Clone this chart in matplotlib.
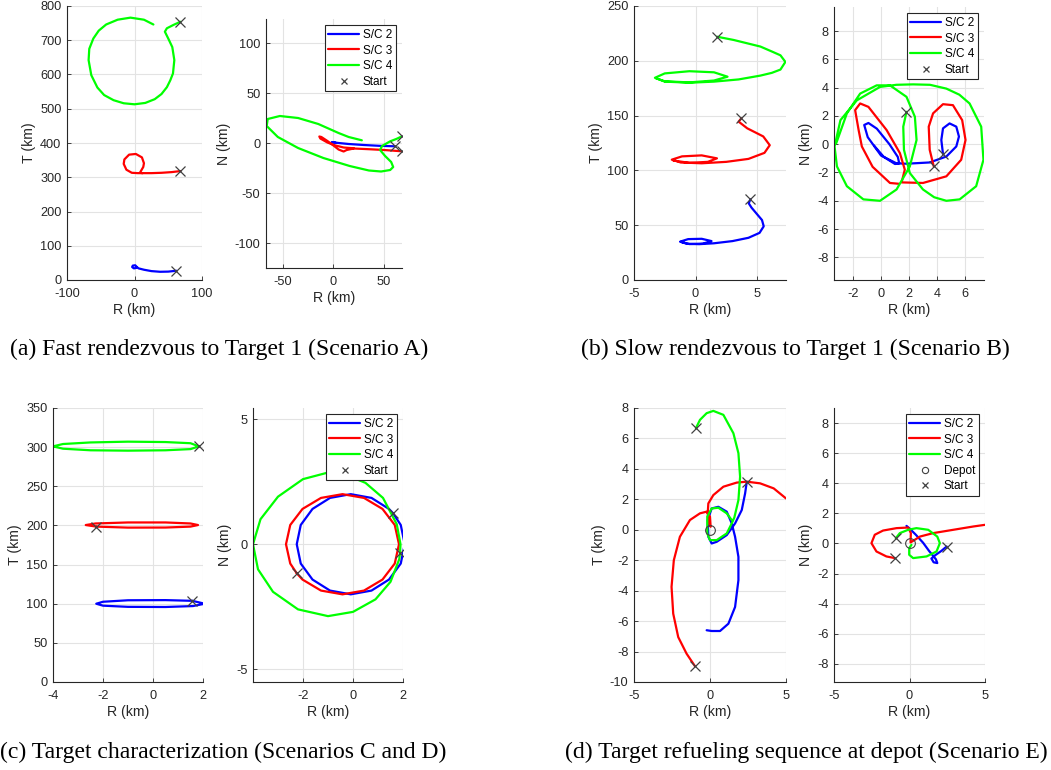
import matplotlib
matplotlib.use("Agg")
import matplotlib.pyplot as plt

plt.rcParams["font.family"] = ["Liberation Sans", "DejaVu Sans"]
plt.rcParams["axes.unicode_minus"] = False

# ---- data, (R, T) or (R, N) pairs in km ----
# (a) fast rendezvous
A_RT_SC2 = [(62, 27), (50, 24.5), (38, 24), (25, 26), (14, 30), (6, 34), (3.5, 38), (1, 43),
            (-2.5, 42), (-3.5, 38), (-1, 34), (2, 35), (3.5, 38)]
A_RT_SC3 = [(68, 318), (55, 315), (40, 313), (25, 312), (12, 312), (8, 313), (13, 330), (14, 341),
            (11, 358), (2, 368), (-8, 366), (-15, 352), (-16, 339), (-12, 322), (-4, 313), (5, 312), (12, 312)]
A_RT_SC4 = [(68, 754), (58, 745), (48, 735), (45, 725), (50, 705), (56, 680), (59, 642), (57, 603),
            (53, 583), (48, 563), (40, 543), (30, 528), (16, 517), (0, 513), (-16, 516), (-31, 525),
            (-45, 540), (-55, 562), (-64, 598), (-68, 642), (-67, 675), (-61, 705), (-53, 728), (-42, 746),
            (-25, 760), (-6, 766), (14, 760), (28, 746)]
A_RN_SC2 = [(61, -3.3), (45, -2.8), (30, -2.0), (15, -1.0), (5, 0.0), (-1, 0.8), (-2, 0.5), (2, 0.3)]
A_RN_SC3 = [(67.7, -8.3), (50, -7.0), (35, -6.2), (20, -5.5), (13, -7.0), (10, -8.5), (5, -6.5), (0, -2.5),
            (-6, 2.0), (-12, 6.0), (-14, 6.5), (-13, 4.5), (-6, 0.5), (2, -2.5), (10, -4.5), (20, -5.3)]
A_RN_SC4 = [(67.7, 6.7), (62, 4), (56, 1.7), (48, -3), (46, -7), (51, -13), (57, -19), (59, -24), (56, -27),
            (47, -28.5), (35, -27.5), (16, -23), (-10, -15), (-35, -5), (-55, 6), (-66, 17), (-65, 24),
            (-53, 27), (-35, 25), (-15, 19), (5, 10), (15, 6), (28, 2.7)]

# (b) slow rendezvous
B_RT_SC2 = [(4.46, 73.6), (4.32, 70), (4.55, 66), (5.0, 60), (5.4, 54.7), (5.54, 49), (5.2, 43), (4.3, 38.5),
            (3.0, 35.5), (1.5, 33.5), (0.3, 32.7), (-0.7, 33), (-1.25, 35), (-0.6, 37.3), (0.5, 37.6),
            (1.3, 35.5), (0.6, 33.2), (-0.5, 32.8), (-1.2, 34.8)]
B_RT_SC3 = [(3.72, 147.5), (3.5, 144.5), (4.2, 138.4), (5.5, 131), (6.03, 123), (5.6, 116), (4.3, 110.5),
            (2.5, 107.8), (0.5, 106.5), (-1.2, 107.2), (-1.93, 109.8), (-1.1, 112.8), (0.5, 113.7),
            (1.74, 111), (1.0, 107.8), (-0.5, 106.9), (-1.8, 109)]
B_RT_SC4 = [(1.74, 222), (3.1, 219), (5.27, 213), (6.3, 208), (6.9, 205), (7.3, 199), (6.9, 192), (6.2, 189),
            (5.27, 186.5), (3.5, 183), (1.5, 181), (-0.5, 180), (-2.5, 181), (-3.3, 184.5), (-2.5, 188.5),
            (-0.5, 190.5), (1.5, 189.5), (2.6, 185.5), (1.5, 182), (-0.5, 180.3), (-2.5, 181.3), (-3.2, 184)]
B_RN_SC2 = [(4.43, -0.7), (4.31, 0.3), (4.43, 1.12), (4.9, 1.47), (5.38, 1.24), (5.57, 0.54), (5.38, -0.16),
            (4.67, -0.87), (3.48, -1.29), (1.82, -1.38), (1.1, -1.35), (0.0, -0.8), (-0.95, 0.5), (-1.2, 1.36),
            (-0.9, 1.5), (-0.3, 1.1), (0.6, 0.0), (1.2, -0.9), (1.3, -1.35), (1.0, -1.4), (0.2, -0.9), (-0.5, -0.1)]
B_RN_SC3 = [(3.77, -1.57), (3.48, -0.4), (3.41, 1.24), (3.72, 2.18), (4.43, 2.83), (5.14, 2.76), (5.8, 1.7),
            (6.04, 0.3), (5.73, -1.1), (4.67, -2.27), (3.0, -2.74), (1.47, -2.7), (1.7, -1.8), (1.35, -0.63),
            (0.4, 1.0), (-0.9, 2.64), (-1.49, 2.88), (-1.85, 2.41), (-1.6, 1.0), (-1.37, -0.16), (-0.6, -1.6),
            (0.64, -2.74), (1.3, -2.8)]
B_RN_SC4 = [(1.82, 2.29), (1.59, 1.24), (1.64, -0.4), (2.06, -2.04), (3.0, -3.2), (3.8, -3.75), (4.67, -4.0),
            (5.62, -3.9), (6.8, -2.97), (7.32, -1.1), (7.16, 1.24), (6.33, 2.88), (5.6, 3.5), (4.67, 3.93),
            (3.5, 4.2), (2.3, 4.23), (1.1, 4.2), (-0.07, 4.05), (-1.73, 3.1), (-2.9, 1.7), (-3.32, -0.16),
            (-3.15, -1.57), (-2.44, -2.97), (-1.26, -3.9), (-0.07, -4.0), (1.11, -3.2), (2.06, -1.57),
            (2.54, 0.3), (2.42, 1.94), (1.82, 3.35), (0.64, 4.16), (-0.31, 4.16), (-1.49, 3.58),
            (-2.44, 2.18), (-3.2, 0.07)]

# (c) target characterization
C_RT_SC2 = [(1.57, 103.7), (0.5, 104.6), (-1, 104.4), (-2, 102.5), (-2.27, 100), (-2, 97.5), (-1, 96),
            (0.5, 95.8), (1.6, 97), (2.07, 100), (1.57, 103.7)]
C_RT_SC3 = [(-2.27, 198.5), (-2.69, 200.5), (-2.3, 202.5), (-1, 203.8), (0.5, 203.8), (1.5, 202.5),
            (1.8, 200.5), (1.5, 198.5), (0.5, 197.3), (-1, 197.2), (-2.27, 198.5)]
C_RT_SC4 = [(1.84, 301), (1.5, 305), (0.5, 306.5), (-1, 307), (-2.5, 306), (-3.6, 304), (-4, 301),
            (-3.6, 298), (-2.5, 296), (-1, 295.5), (0.5, 296), (1.5, 297.5), (1.84, 301)]
C_RN_SC2 = [(1.6, 1.24), (1.44, 1.41), (0.74, 1.85), (-0.09, 2.0), (-0.92, 1.85), (-1.62, 1.41), (-2.09, 0.77),
            (-2.25, 0), (-2.09, -0.77), (-1.62, -1.41), (-0.92, -1.85), (-0.09, -2.0), (0.74, -1.85),
            (1.44, -1.41), (1.91, -0.77), (2.07, 0), (1.91, 0.77), (1.6, 1.24)]
C_RN_SC3 = [(-2.25, -1.16), (-2.02, -1.41), (-1.28, -1.85), (-0.42, -2.0), (0.44, -1.85), (1.18, -1.41),
            (1.67, -0.77), (1.84, 0), (1.67, 0.77), (1.18, 1.41), (0.44, 1.85), (-0.42, 2.0), (-1.28, 1.85),
            (-2.02, 1.41), (-2.51, 0.77), (-2.68, 0), (-2.51, -0.77), (-2.25, -1.16)]
C_RN_SC4 = [(1.88, -0.36), (1.9, 0), (1.75, 0.8), (1.2, 1.85), (0.5, 2.45), (-0.3, 2.78), (-1.05, 2.85),
            (-2.0, 2.6), (-3.0, 1.9), (-3.7, 1.0), (-4.0, 0), (-3.8, -1.0), (-3.2, -1.9), (-2.2, -2.6),
            (-1.0, -2.87), (0.0, -2.7), (0.9, -2.2), (1.5, -1.5), (1.85, -0.6), (1.88, -0.36)]

# (d) refueling at depot
D_RT_SC2 = [(2.42, 3.16), (2.31, 2.39), (2.09, 1.3), (1.65, 0.42), (1.1, -0.35), (0.44, -0.79), (0.11, -0.9),
            (-0.11, -0.46), (-0.15, 0.64), (0.11, 1.4), (0.55, 1.51), (1.1, 1.19), (1.43, 0.42), (1.65, -0.46),
            (1.87, -1.78), (1.87, -3.31), (1.65, -5.07), (1.21, -6.17), (0.66, -6.65), (0.11, -6.65), (-0.22, -6.6)]
D_RT_SC3 = [(-0.99, -8.96), (-1.54, -8.14), (-2.09, -7.05), (-2.42, -5.51), (-2.53, -3.75), (-2.38, -2.0),
            (-1.98, -0.46), (-1.32, 0.64), (-0.66, 1.08), (-0.22, 1.19), (0.0, 0.86), (0.04, 0.2), (-0.1, 0.5),
            (-0.15, 1.08), (-0.11, 1.73), (0.22, 2.28), (0.88, 2.83), (1.76, 3.1), (2.42, 3.16), (3.3, 3.05),
            (4.19, 2.72), (5.0, 2.06)]
D_RT_SC4 = [(-0.93, 6.67), (-0.66, 7.22), (-0.22, 7.66), (0.22, 7.81), (0.88, 7.55), (1.54, 6.34), (1.87, 5.03),
            (1.98, 3.49), (1.87, 1.95), (1.6, 0.8), (1.43, 0.42), (1.1, -0.24), (0.44, -0.68), (0.0, -0.68),
            (-0.18, -0.24), (-0.18, 0.86), (0.11, 1.4), (0.55, 1.45), (1.1, 1.08), (1.43, 0.64)]
D_RN_SC2 = [(2.46, -0.2), (2.1, -0.5), (1.7, -0.78), (1.45, -1.0), (1.6, -1.25), (1.84, -1.3), (1.75, -1.05),
            (1.3, -0.5), (0.9, 0.05), (0.4, 0.6), (0.0, 1.0), (-0.2, 1.17)]
D_RN_SC3 = [(-0.97, -0.97), (-1.53, -0.86), (-2.19, -0.53), (-2.52, 0.02), (-2.3, 0.58), (-1.75, 0.86),
            (-0.86, 1.02), (-0.09, 1.06), (0.09, 0.69), (0.07, 0.07), (0.69, 0.46), (1.57, 0.69), (2.9, 0.91),
            (4.23, 1.13), (5.0, 1.24)]
D_RN_SC4 = [(-0.91, 0.35), (-0.64, 0.69), (-0.09, 0.91), (0.46, 1.02), (1.24, 0.91), (1.84, 0.46), (2.01, 0.02),
            (1.79, -0.53), (1.13, -0.86), (0.24, -0.97), (-0.02, -0.75), (-0.02, -0.31), (0.13, -0.09)]
DEPOT = (0.0, 0.0)

SC_LABELS = ["S/C 2", "S/C 3", "S/C 4"]
SC_COLORS = ["#0000ff", "#ff0000", "#00ff00"]
CAPTIONS = ["(a) Fast rendezvous to Target 1 (Scenario A)",
            "(b) Slow rendezvous to Target 1 (Scenario B)",
            "(c) Target characterization (Scenarios C and D)",
            "(d) Target refueling sequence at depot (Scenario E)"]

W, H = 1051, 770
fig = plt.figure(figsize=(W / 100, H / 100), dpi=100)
INK = "#262626"


def add_ax(l, r, t, b):
    return fig.add_axes([l / W, 1 - b / H, (r - l) / W, (b - t) / H])


def style(ax, xlim, ylim, xticks, yticks, ylabel):
    ax.set_xlim(xlim)
    ax.set_ylim(ylim)
    ax.set_xticks(xticks)
    ax.set_yticks(yticks)
    ax.grid(True, color="#e3e3e3", lw=0.8)
    ax.set_axisbelow(True)
    for s in ("top", "right"):
        ax.spines[s].set_visible(False)
    for s in ("left", "bottom"):
        ax.spines[s].set_color(INK)
        ax.spines[s].set_linewidth(0.8)
    ax.tick_params(direction="in", length=3, width=0.6, colors=INK, labelsize=9.2)
    ax.tick_params(axis="x", pad=6)
    ax.tick_params(axis="y", pad=4)
    ax.set_xlabel("R (km)", fontsize=10.2, color=INK, labelpad=2)
    ax.set_ylabel(ylabel, fontsize=10.2, color=INK, labelpad=3)


def draw(ax, paths, legend=False, depot=False):
    for pts, lab, col in zip(paths, SC_LABELS, SC_COLORS):
        xs, ys = zip(*pts)
        ax.plot(xs, ys, color=col, lw=1.6, label=lab, solid_capstyle="round")
    if depot:
        ax.plot([DEPOT[0]], [DEPOT[1]], "o", mfc="none", mec="#404040", ms=7, mew=0.8, label="Depot")
    for i, pts in enumerate(paths):
        ax.plot([pts[0][0]], [pts[0][1]], "x", color="#404040", ms=6.5, mew=0.9,
                label="Start" if i == 0 else None)
    if legend:
        leg = ax.legend(loc="upper right", fontsize=8.5, fancybox=False, framealpha=1,
                        edgecolor=INK, handlelength=2.6, handletextpad=0.3, borderpad=0.3,
                        labelspacing=0.3, borderaxespad=0.55)
        leg.get_frame().set_linewidth(0.8)
        for h in leg.legend_handles:
            if h.get_marker() in ("x", "o"):
                h.set_markersize(4.5)


# (a)
ax = add_ax(67, 202, 6, 280)
draw(ax, [A_RT_SC2, A_RT_SC3, A_RT_SC4])
style(ax, (-100, 100), (0, 800), [-100, 0, 100], range(0, 801, 100), "T (km)")
ax = add_ax(266, 402, 19, 268)
draw(ax, [A_RN_SC2, A_RN_SC3, A_RN_SC4], legend=True)
style(ax, (-66.7, 67.7), (-125, 124), [-50, 0, 50], [-100, -50, 0, 50, 100], "N (km)")

# (b)
ax = add_ax(634, 786, 6, 280)
draw(ax, [B_RT_SC2, B_RT_SC3, B_RT_SC4])
style(ax, (-5, 7.35), (0, 250), [-5, 0, 5], range(0, 251, 50), "T (km)")
ax = add_ax(834, 984, 7, 280)
draw(ax, [B_RN_SC2, B_RN_SC3, B_RN_SC4], legend=True)
style(ax, (-3.36, 7.36), (-9.6, 9.7), [-2, 0, 2, 4, 6], range(-8, 9, 2), "N (km)")

# (c)
ax = add_ax(53, 203, 408, 682)
draw(ax, [C_RT_SC2, C_RT_SC3, C_RT_SC4])
style(ax, (-4, 2), (0, 350), [-4, -2, 0, 2], range(0, 351, 50), "T (km)")
ax = add_ax(253, 403, 408, 682)
draw(ax, [C_RN_SC2, C_RN_SC3, C_RN_SC4], legend=True)
style(ax, (-4.0, 2.0), (-5.5, 5.44), [-2, 0, 2], [-5, 0, 5], "N (km)")

# (d)
ax = add_ax(634, 786, 408, 682)
draw(ax, [D_RT_SC2, D_RT_SC3, D_RT_SC4], depot=True)
style(ax, (-5, 5), (-10, 8), [-5, 0, 5], range(-10, 9, 2), "T (km)")
ax = add_ax(834, 985, 408, 682)
draw(ax, [D_RN_SC2, D_RN_SC3, D_RN_SC4], legend=True, depot=True)
style(ax, (-5, 5), (-9.2, 9.0), [-5, 0, 5], range(-8, 9, 2), "N (km)")

# captions
for (cx, cy), txt in zip([(219, 349), (795, 349), (223, 752), (806, 752)], CAPTIONS):
    fig.text(cx / W, 1 - cy / H, txt, ha="center", va="center",
             family=["Liberation Serif", "DejaVu Serif"], fontsize=17)

fig.savefig("out.png", dpi=100)
